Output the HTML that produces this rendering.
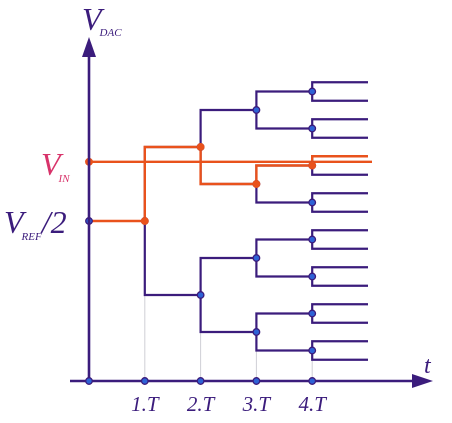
<!DOCTYPE html>
<html><head><meta charset="utf-8"><style>
html,body{margin:0;padding:0;background:#fff;}
svg{display:block;}
text{font-family:"Liberation Serif",serif;font-style:italic;}
</style></head><body>
<svg id="c" width="452" height="423" viewBox="0 0 452 423"></svg>
<script>
// data
const timeSteps = [0, 1, 2, 3, 4];
const timeLabels = ["", "1.T", "2.T", "3.T", "4.T"];
const vrefHalf = 0.5;          // normalized DAC start level
const vin = 0.70;              // normalized input voltage
const decisions = [1, 0, 1, 1]; // SAR bit decisions (1 = go up)

const NS = "http://www.w3.org/2000/svg";
const svg = document.getElementById("c");
const PURPLE = "#3b1c7c", ORANGE = "#e9521c", NODE = "#2e62d6";
// axis functions
const x0 = 89, dx = 55.8, endX = 368;
const xT = t => x0 + t * dx;
const yTop = 73, yBot = 369;
const yV = v => yBot - v * (yBot - yTop);

function mk(tag, attrs, parent) {
  const e = document.createElementNS(NS, tag);
  for (const k in attrs) e.setAttribute(k, attrs[k]);
  (parent || svg).appendChild(e);
  return e;
}
const gGrid = mk("g", {});


const gTree = mk("g", {});


const gOrange = mk("g", {});


const gNodes = mk("g", {});



function node(x, y, col, fill, name) {
  const c = mk("circle", {cx: x, cy: y, r: 3.3, fill: fill, stroke: col, "stroke-width": 1.3}, gNodes);
  
  
}

// grid lines (from lowest branch at each step down to axis)
for (let i = 1; i < timeSteps.length; i++) {
  let low = vrefHalf, st = 0.25;
  for (let k = 1; k <= i; k++) { low -= st; st /= 2; }
  const l = mk("line", {x1: xT(timeSteps[i]), x2: xT(timeSteps[i]), y1: yV(low), y2: 381, stroke: "#cfcfd6", "stroke-width": 1}, gGrid);
  
  
}

// tree
function tree(level, v, step) {
  const x = xT(timeSteps[level]);
  const xn = level + 1 < timeSteps.length ? xT(timeSteps[level + 1]) : endX;
  const yU = yV(v + step), yD = yV(v - step);
  const p = mk("path", {d: `M${xn},${yU}H${x}V${yD}H${xn}`, fill: "none", stroke: PURPLE, "stroke-width": 2.2}, gTree);
  
  
  if (level >= 1) node(x, yV(v), PURPLE, NODE, 'node-t' + level);
  if (level + 1 < timeSteps.length) {
    tree(level + 1, v + step, step / 2);
    tree(level + 1, v - step, step / 2);
  }
}
tree(1, vrefHalf, 0.25);

// VIN line
const vinLine = mk("line", {x1: x0, x2: endX + 4, y1: yV(vin), y2: yV(vin), stroke: ORANGE, "stroke-width": 2.4}, gOrange);



// orange conversion path
let v = vrefHalf, step = 0.25;
let d = `M${x0},${yV(v)}`;
const pts = [];
for (let i = 0; i < decisions.length; i++) {
  const x = xT(timeSteps[i + 1]);
  d += `H${x}`;
  pts.push([x, yV(v)]);
  v += decisions[i] ? step : -step;
  step /= 2;
  d += `V${yV(v)}`;
}
d += `H${endX}`;
const op = mk("path", {d: d, fill: "none", stroke: ORANGE, "stroke-width": 2.4}, gOrange);


pts.forEach((p, i) => node(p[0], p[1], ORANGE, ORANGE, 'path-node-' + (i + 1)));

// axes
const ax = mk("g", {});


const ya = mk("line", {x1: x0, x2: x0, y1: 382, y2: 55, stroke: PURPLE, "stroke-width": 2.6}, ax);


const yh = mk("polygon", {points: `${x0-7},57 ${x0+7},57 ${x0},37`, fill: PURPLE}, ax);


const xa = mk("line", {x1: 70, x2: 415, y1: 381, y2: 381, stroke: PURPLE, "stroke-width": 2.6}, ax);


const xh = mk("polygon", {points: "412,374 412,388 433,381", fill: PURPLE}, ax);


timeSteps.forEach((t, i) => {
  const c = mk("circle", {cx: xT(t), cy: 381, r: 3.3, fill: NODE, stroke: PURPLE, "stroke-width": 1.3}, ax);
  
  
  if (timeLabels[i]) {
    const tx = mk("text", {x: xT(t), y: 411, "text-anchor": "middle", "font-size": 21, fill: PURPLE}, ax);
    tx.textContent = timeLabels[i];
    
    
  }
});
node(x0, yV(vin), ORANGE, ORANGE, 'vin-axis-node');
node(x0, yV(vrefHalf), PURPLE, NODE, 'vref-half-axis-node');
</script>
<div style="position:absolute;left:0;top:0;width:452px;height:423px;pointer-events:none">
<svg width="452" height="423" style="position:absolute;left:0;top:0">
<text x="82" y="30" font-size="32" fill="#3b1c7c">V<tspan font-size="11" dy="6" dx="-2">DAC</tspan></text>
<text x="41" y="175" font-size="32" fill="#d8336a">V<tspan font-size="11" dy="7" dx="-2">IN</tspan></text>
<text x="4" y="233" font-size="32" fill="#3b1c7c">V<tspan font-size="11" dy="7" dx="-2">REF</tspan><tspan font-size="32" dy="-7">/2</tspan></text>
<text x="424" y="373" font-size="24" fill="#3b1c7c">t</text>
</svg></div>
</body></html>
